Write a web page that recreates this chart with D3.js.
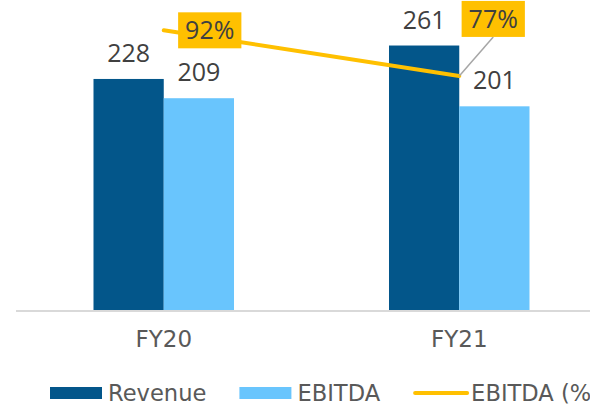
<!DOCTYPE html>
<html>
<head>
<meta charset="utf-8">
<script src="https://cdn.jsdelivr.net/npm/d3@7/dist/d3.min.js"></script>
<style>
  html, body { margin: 0; padding: 0; background: #ffffff; }
  svg { display: block; }
</style>
</head>
<body>
<svg id="chart" width="590" height="406"></svg>
<script>
// Fiscal years shown on the category axis
const years = ["FY20", "FY21"];
// Bar series (same units for both)
const seriesNames = ["Revenue", "EBITDA"];
const revenue = [228, 261];
const ebitda = [209, 201];
// EBITDA margin, drawn on its own axis
const ebitdaMargin = [0.92, 0.77];
const marginLabels = ["92%", "77%"];
const legendLabels = ["Revenue", "EBITDA", "EBITDA (%)"];

const colors = { Revenue: "#03568a", EBITDA: "#69c5fd", line: "#ffc000" };

const svg = d3.select("#chart");
const W = 590, H = 406;

const plotLeft = 16, plotRight = 607, baseY = 310, topY = 6;

const x0 = d3.scaleBand()
  .domain(years)
  .range([plotLeft, plotRight])
  .paddingInner(0.5245)
  .paddingOuter(0.5245 / 2);

const x1 = d3.scaleBand()
  .domain(seriesNames)
  .range([0, x0.bandwidth()])
  .padding(0);

const y = d3.scaleLinear().domain([0, 300]).range([baseY, topY]);
const y2 = d3.scaleLinear().domain([0, 1]).range([baseY, topY]);

const rows = years.map((yr, i) => ({
  year: yr,
  values: [
    { key: "Revenue", value: revenue[i] },
    { key: "EBITDA", value: ebitda[i] }
  ]
}));

// Category axis: baseline rule plus year labels
const xAxis = d3.axisBottom(x0).tickSize(0).tickPadding(20);
const axisG = svg.append("g")
  .attr("transform", `translate(0,${baseY + 1})`)
  .call(xAxis);
axisG.select(".domain")
  .attr("d", `M${plotLeft},0H${W}`)
  .attr("stroke", "#d9d9d9")
  .attr("stroke-width", 2);
axisG.selectAll(".tick text")
  .attr("font-family", "'DejaVu Sans', sans-serif")
  .attr("font-size", 23)
  .attr("fill", "#595959")
  .attr("dy", "0.71em");

// Grouped bars
const groups = svg.append("g").selectAll("g")
  .data(rows)
  .join("g")
  .attr("transform", d => `translate(${x0(d.year)},0)`);

groups.selectAll("rect")
  .data(d => d.values)
  .join("rect")
  .attr("x", d => x1(d.key))
  .attr("width", x1.bandwidth())
  .attr("y", d => y(d.value))
  .attr("height", d => y(0) - y(d.value))
  .attr("fill", d => colors[d.key]);

// Value labels above bars
groups.selectAll("text")
  .data(d => d.values)
  .join("text")
  .attr("x", d => x1(d.key) + x1.bandwidth() / 2)
  .attr("y", d => y(d.value) - 17)
  .attr("text-anchor", "middle")
  .attr("font-family", "'Open Sans', sans-serif")
  .attr("font-size", 25)
  .attr("fill", "#404040")
  .text(d => d.value);

// Margin line
const linePts = years.map((yr, i) => ({
  x: x0(yr) + x0.bandwidth() / 2,
  y: y2(ebitdaMargin[i]),
  label: marginLabels[i]
}));

svg.append("path")
  .datum(linePts)
  .attr("d", d3.line().x(d => d.x).y(d => d.y))
  .attr("fill", "none")
  .attr("stroke", colors.line)
  .attr("stroke-width", 4)
  .attr("stroke-linecap", "round");

// Margin callouts: first sits to the right of its point, second is lifted with a leader
const calloutOffsets = [{ dx: 46, dy: 0, leader: false }, { dx: 34, dy: -57, leader: true }];
const labelFont = 25;
const leaderLayer = svg.append("g");
const calloutLayer = svg.append("g");

linePts.forEach((p, i) => {
  const off = calloutOffsets[i];
  const cx = p.x + off.dx, cy = p.y + off.dy;
  const g = calloutLayer.append("g");
  const box = g.append("rect").attr("fill", colors.line);
  const t = g.append("text")
    .attr("x", cx)
    .attr("y", cy + labelFont * 0.36)
    .attr("text-anchor", "middle")
    .attr("font-family", "'Open Sans', sans-serif")
    .attr("font-size", labelFont)
    .attr("fill", "#404040")
    .text(p.label);
  const bb = t.node().getBBox();
  const padX = 7, boxH = 36;
  const bw = bb.width + padX * 2;
  box.attr("x", cx - bw / 2)
    .attr("y", cy - boxH / 2)
    .attr("width", bw)
    .attr("height", boxH);
  if (off.leader) {
    leaderLayer.append("line")
      .attr("x1", p.x).attr("y1", p.y)
      .attr("x2", cx).attr("y2", cy + boxH / 2)
      .attr("stroke", "#a6a6a6")
      .attr("stroke-width", 1.5);
  }
});

// Legend (runs past the right edge, as the last entry is clipped)
const legendY = 393;
const legend = svg.append("g");
let lx = 50;
const swatchW = 52, swatchGap = 6, itemGap = 33;
legendLabels.forEach((lab, i) => {
  if (i < 2) {
    legend.append("rect")
      .attr("x", lx).attr("y", legendY - 6)
      .attr("width", swatchW).attr("height", 12)
      .attr("fill", colors[seriesNames[i]]);
  } else {
    legend.append("line")
      .attr("x1", lx + 2).attr("x2", lx + swatchW + 2)
      .attr("y1", legendY).attr("y2", legendY)
      .attr("stroke", colors.line)
      .attr("stroke-width", 4)
      .attr("stroke-linecap", "round");
  }
  const t = legend.append("text")
    .attr("x", lx + swatchW + swatchGap)
    .attr("y", legendY + 7.5)
    .attr("font-family", "'DejaVu Sans', sans-serif")
    .attr("font-size", 22.6)
    .attr("fill", "#595959")
    .text(lab);
  lx = lx + swatchW + swatchGap + t.node().getComputedTextLength() + itemGap;
});
</script>
</body>
</html>
